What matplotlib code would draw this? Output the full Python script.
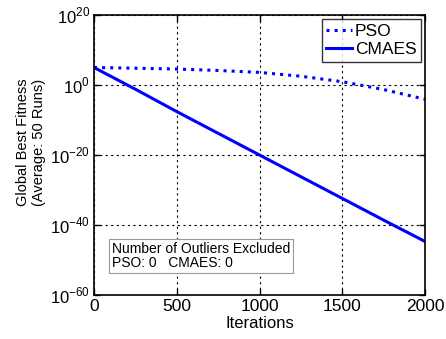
import numpy as np
import matplotlib
matplotlib.use("Agg")
import matplotlib.pyplot as plt
from matplotlib.ticker import FixedLocator, NullLocator

plt.rcParams['font.family'] = ['Liberation Sans', 'DejaVu Sans']
plt.rcParams['mathtext.fontset'] = 'custom'
plt.rcParams['mathtext.rm'] = 'Liberation Sans'

# values (log10 of fitness)
iters = [0, 250, 500, 750, 1000, 1250, 1500, 1750, 2000]
pso_log = [5.0, 4.8, 4.56, 4.15, 3.6, 2.5, 0.94, -1.3, -4.07]
cmaes_log = [5.0, -1.2, -7.6, -13.8, -20.0, -26.2, -32.4, -38.6, -44.7]

x = np.array(iters)
pso = 10.0 ** np.array(pso_log)
cmaes = 10.0 ** np.array(cmaes_log)

fig = plt.figure(figsize=(4.46, 3.39), dpi=100)
ax = fig.add_axes([94/446, 1-295/339, (425-94)/446, (295-15)/339])

ax.semilogy(x, pso, ':', color='#0000ff', lw=2.2, label='PSO')
ax.semilogy(x, cmaes, '-', color='#0000ff', lw=2.2, label='CMAES')

ax.set_xlim(0, 2000)
ax.set_ylim(1e-60, 1e20)
ax.set_xticks([0, 500, 1000, 1500, 2000])
ax.yaxis.set_major_locator(FixedLocator([1e-60, 1e-40, 1e-20, 1e0, 1e20]))
ax.yaxis.set_minor_locator(NullLocator())
ax.set_yticklabels(['$10^{-60}$', '$10^{-40}$', '$10^{-20}$', '$10^{0}$', '$10^{20}$'])
ax.tick_params(axis='x', labelsize=12.5, pad=3)
ax.tick_params(axis='y', labelsize=12, pad=3)
ax.tick_params(direction='in', width=1, length=4, top=True, right=True)
ax.grid(True, which='major', color='black', linestyle=(0, (2, 3)), lw=0.8)
for s in ax.spines.values():
    s.set_linewidth(1.2)

ax.set_xlabel('Iterations', fontsize=12, labelpad=1)
ax.set_ylabel('Global Best Fitness\n(Average: 50 Runs)', fontsize=10.5, linespacing=1.2)
ax.yaxis.set_label_coords(-0.145, 0.545)

leg = ax.legend(loc='upper right', fontsize=12.5, frameon=True, fancybox=False,
                borderpad=0.25, handlelength=1.5, handletextpad=0.15,
                labelspacing=0.2, borderaxespad=0.25, edgecolor='black')
leg.get_frame().set_linewidth(1)

ax.text(0.055, 0.14, 'Number of Outliers Excluded\nPSO: 0   CMAES: 0',
        transform=ax.transAxes, fontsize=10, va='center', ha='left',
        linespacing=1.05,
        bbox=dict(boxstyle='square,pad=0.2', fc='white', ec='#999999', lw=0.8))

fig.savefig('out.png', dpi=100)
